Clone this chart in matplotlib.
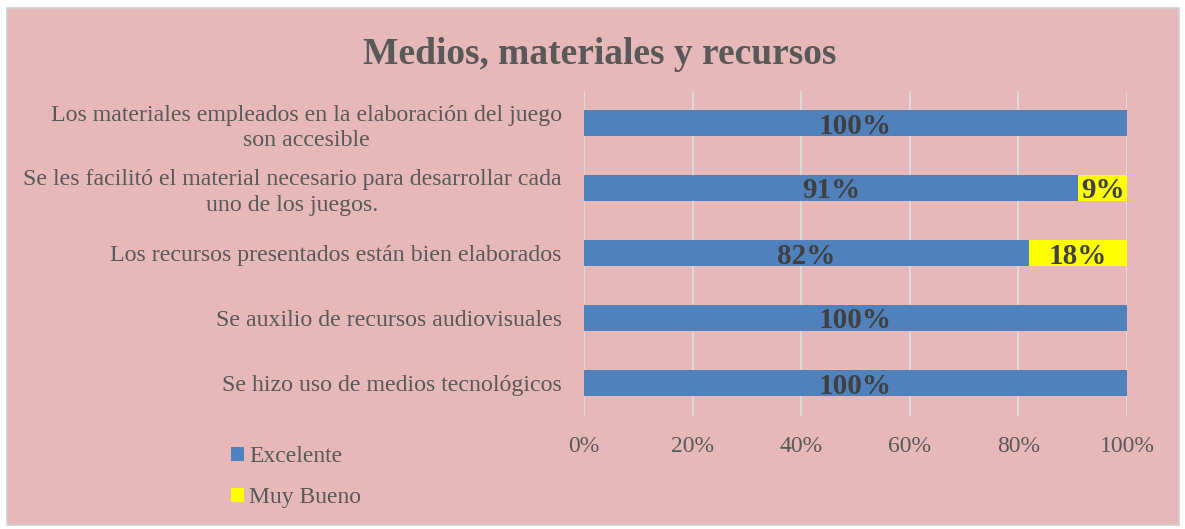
import matplotlib.pyplot as plt
from matplotlib.patches import Rectangle

# Datos del gráfico (orden de arriba hacia abajo)
categories = [
    "Los materiales empleados en la elaboración del juego\nson accesible",
    "Se les facilitó el material necesario para desarrollar cada\nuno de los juegos.",
    "Los recursos presentados están bien elaborados",
    "Se auxilio de recursos audiovisuales",
    "Se hizo uso de medios tecnológicos",
]
excelente = [100, 91, 82, 100, 100]
muy_bueno = [0, 9, 18, 0, 0]
x_ticks = [0, 20, 40, 60, 80, 100]

BG = "#E6B8B7"
BLUE = "#4F81BD"
YELLOW = "#FFFF00"
TEXT = "#595959"
LABEL = "#404040"
SERIF = ["Liberation Serif", "DejaVu Serif"]

W, H = 1185, 529
fig = plt.figure(figsize=(W / 100, H / 100), dpi=100)
fig.patch.set_facecolor("white")

# Marco rosado del área del gráfico (detrás de los ejes)
fig.patches.append(Rectangle((7 / W, 4 / H), 1172 / W, 517 / H, transform=fig.transFigure,
                             facecolor=BG, edgecolor="#D0D0D0", linewidth=1.2, zorder=-10))

ax = fig.add_axes([584 / W, 1 - 415.5 / H, 543 / W, 325 / H])
ax.set_facecolor("none")

y = list(range(len(categories)))
ax.barh(y, excelente, height=0.4, color=BLUE, label="Excelente", zorder=3)
ax.barh(y, muy_bueno, left=excelente, height=0.4, color=YELLOW, label="Muy Bueno", zorder=3)

for i in y:
    ax.text(excelente[i] / 2, i, f"{excelente[i]}%", ha="center", va="center_baseline",
            fontsize=21, fontweight="bold", color=LABEL, family=SERIF, zorder=4)
    if muy_bueno[i] > 0:
        ax.text(excelente[i] + muy_bueno[i] / 2, i, f"{muy_bueno[i]}%", ha="center",
                va="center_baseline", fontsize=21, fontweight="bold", color=LABEL,
                family=SERIF, zorder=4)

ax.set_ylim(len(categories) - 0.5, -0.5)
ax.set_xlim(0, 100)
ax.set_xticks(x_ticks)
ax.set_xticklabels([f"{t}%" for t in x_ticks], fontsize=17, color=TEXT, family=SERIF)
ax.set_yticks(y)
ax.set_yticklabels(categories, fontsize=17.2, color=TEXT, family=SERIF, linespacing=1.28)
ax.tick_params(axis="both", length=0)
ax.tick_params(axis="x", pad=15)
ax.tick_params(axis="y", pad=16)
for lbl in ax.get_yticklabels():
    lbl.set_horizontalalignment("right")
    lbl.set_multialignment("center")

ax.grid(axis="x", color="#D9D9D9", linewidth=1.5, zorder=0)
for s in ax.spines.values():
    s.set_visible(False)

fig.text(600 / W, 1 - 55 / H, "Medios, materiales y recursos", ha="center", va="center",
         fontsize=27, fontweight="bold", color=TEXT, family=SERIF)

# Leyenda abajo a la izquierda
fig.legend(loc="upper left", bbox_to_anchor=(210 / W, 1 - 425 / H), frameon=False,
           prop={"family": SERIF, "size": 17}, labelcolor=TEXT, handlelength=0.55,
           handleheight=0.55, handletextpad=0.2, labelspacing=0.85)

fig.savefig("out.png", dpi=100, facecolor="white")
